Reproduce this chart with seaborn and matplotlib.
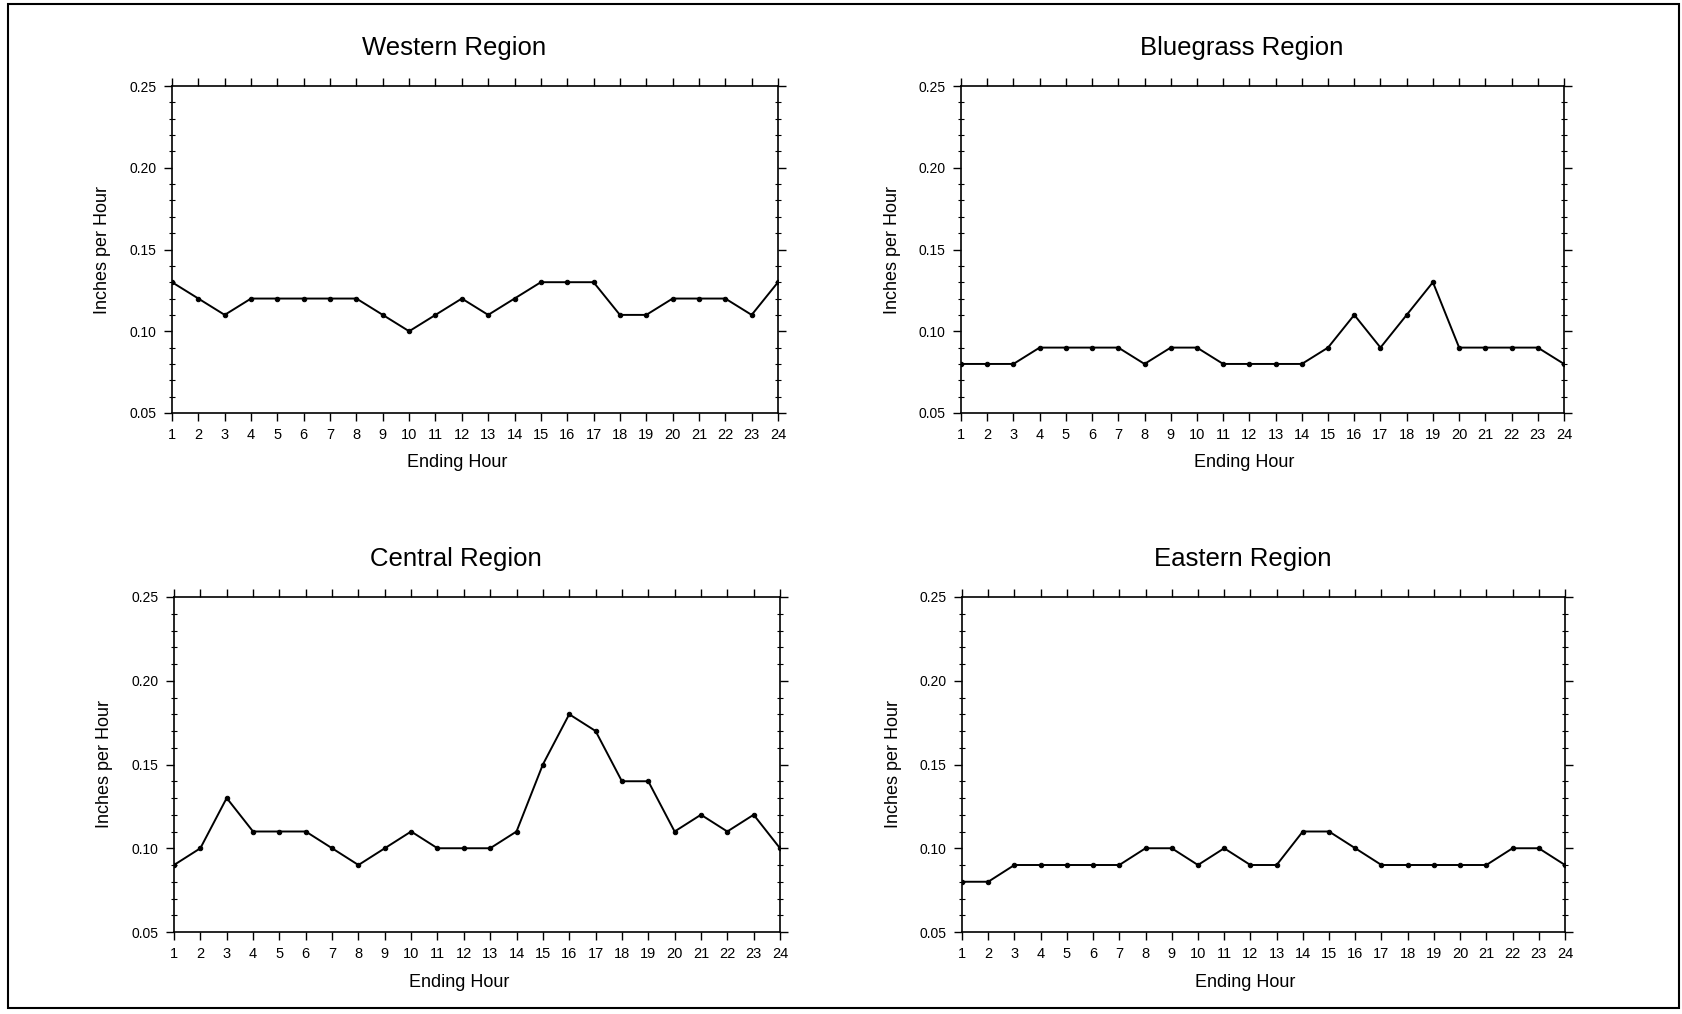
import matplotlib
matplotlib.use("Agg")
import matplotlib.pyplot as plt
import seaborn as sns
import pandas as pd
import numpy as np
from matplotlib.ticker import MultipleLocator, FormatStrFormatter
from matplotlib.patches import Rectangle

hours = list(range(1, 25))
western = [0.13, 0.12, 0.11, 0.12, 0.12, 0.12, 0.12, 0.12, 0.11, 0.10, 0.11, 0.12,
           0.11, 0.12, 0.13, 0.13, 0.13, 0.11, 0.11, 0.12, 0.12, 0.12, 0.11, 0.13]
bluegrass = [0.08, 0.08, 0.08, 0.09, 0.09, 0.09, 0.09, 0.08, 0.09, 0.09, 0.08, 0.08,
             0.08, 0.08, 0.09, 0.11, 0.09, 0.11, 0.13, 0.09, 0.09, 0.09, 0.09, 0.08]
central = [0.09, 0.10, 0.13, 0.11, 0.11, 0.11, 0.10, 0.09, 0.10, 0.11, 0.10, 0.10,
           0.10, 0.11, 0.15, 0.18, 0.17, 0.14, 0.14, 0.11, 0.12, 0.11, 0.12, 0.10]
eastern = [0.08, 0.08, 0.09, 0.09, 0.09, 0.09, 0.09, 0.10, 0.10, 0.09, 0.10, 0.09,
           0.09, 0.11, 0.11, 0.10, 0.09, 0.09, 0.09, 0.09, 0.09, 0.10, 0.10, 0.09]
titles = ["Western Region", "Bluegrass Region", "Central Region", "Eastern Region"]
series = [western, bluegrass, central, eastern]
y_ticks = [0.05, 0.10, 0.15, 0.20, 0.25]

sns.set_style("ticks")
plt.rcParams['font.family'] = ['Liberation Sans', 'DejaVu Sans']
plt.rcParams['text.color'] = 'black'
plt.rcParams['axes.labelcolor'] = 'black'
plt.rcParams['xtick.color'] = 'black'
plt.rcParams['ytick.color'] = 'black'

W, H = 1682, 1014
fig = plt.figure(figsize=(W / 100, H / 100), dpi=100)
fig.patch.set_facecolor("white")

# axes boxes in pixel coords: left, top, right, bottom
boxes = [(172, 86, 778, 413), (961, 86, 1564, 413),
         (174, 597, 780, 932), (962, 597, 1565, 932)]

for title, vals, (l, t, r, b) in zip(titles, series, boxes):
    ax = fig.add_axes([l / W, 1 - b / H, (r - l) / W, (b - t) / H])
    df = pd.DataFrame({"Ending Hour": hours, "Inches per Hour": vals})
    sns.lineplot(data=df, x="Ending Hour", y="Inches per Hour", ax=ax,
                 color="black", linewidth=1.4, marker="o", markersize=3.2,
                 markeredgecolor="black")
    ax.set_xlim(1, 24)
    ax.set_ylim(0.05, 0.25)
    ax.set_xticks(hours)
    ax.set_xticklabels([str(h) for h in hours], fontsize=10.5)
    ax.set_yticks(y_ticks)
    ax.yaxis.set_major_formatter(FormatStrFormatter("%.2f"))
    ax.yaxis.set_minor_locator(MultipleLocator(0.01))
    for lab in ax.get_yticklabels():
        lab.set_fontsize(10)
    ax.tick_params(axis="both", which="major", direction="out", length=6,
                   width=1.0, color="black", labelcolor="black", top=True, right=True,
                   labeltop=False, labelright=False, pad=5)
    ax.tick_params(axis="y", which="minor", direction="inout", length=5,
                   width=0.8, left=True, right=True)
    for sp in ax.spines.values():
        sp.set_visible(True)
        sp.set_linewidth(1.2)
        sp.set_color("black")
    ax.set_xlabel("Ending Hour", fontsize=13, color="black")
    ax.set_ylabel("Inches per Hour", fontsize=13, color="black")
    ax.xaxis.set_label_coords(0.47, -0.125)
    ax.yaxis.set_label_coords(-0.1, 0.5)
    ax.set_title(title, fontsize=18.5, pad=22, x=0.465, color="black")

fig.add_artist(Rectangle((8 / W, 1 - 1008 / H), (1679 - 8) / W, (1008 - 4) / H,
                         transform=fig.transFigure, fill=False,
                         edgecolor="black", linewidth=1.5))

fig.savefig("out.png", dpi=100, facecolor="white")
